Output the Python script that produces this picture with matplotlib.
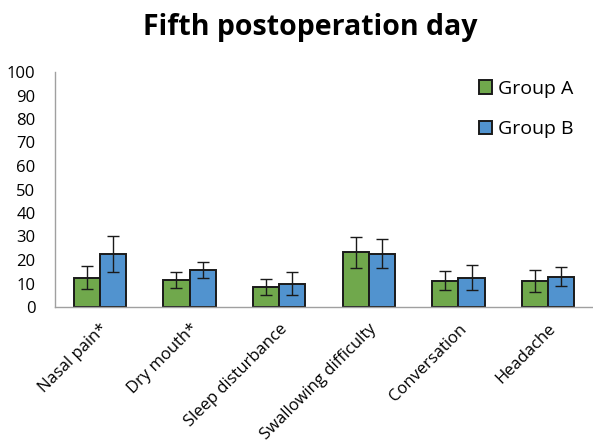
import matplotlib
matplotlib.use("Agg")
import matplotlib.pyplot as plt
import numpy as np

categories = ["Nasal pain*", "Dry mouth*", "Sleep disturbance", "Swallowing difficulty", "Conversation", "Headache"]
group_a = [12.5, 11.5, 8.6, 23.3, 11.2, 11.1]
group_a_err = [5.0, 3.6, 3.5, 6.6, 4.1, 4.7]
group_b = [22.7, 15.7, 9.9, 22.7, 12.5, 12.9]
group_b_err = [7.6, 3.3, 4.9, 6.2, 5.4, 4.1]
yticks = [0, 10, 20, 30, 40, 50, 60, 70, 80, 90, 100]

plt.rcParams['font.family'] = ['Open Sans', 'DejaVu Sans']

fig = plt.figure(figsize=(5.93, 4.42), dpi=100)
ax = fig.add_axes([55/593, (442-307)/442, (593-55)/593, (307-72)/442])

x = np.arange(len(categories))
w = 0.29
ax.bar(x - w/2, group_a, w, yerr=group_a_err, color="#70A84C", edgecolor="#1a1a1a",
       linewidth=1.4, capsize=4, error_kw=dict(elinewidth=1, ecolor="#1a1a1a", capthick=1), label="Group A", zorder=2)
ax.bar(x + w/2, group_b, w, yerr=group_b_err, color="#5193CF", edgecolor="#1a1a1a",
       linewidth=1.4, capsize=4, error_kw=dict(elinewidth=1, ecolor="#1a1a1a", capthick=1), label="Group B", zorder=2)

ax.set_xlim(-0.5, len(categories) - 0.5)
ax.set_ylim(0, 100)
ax.set_yticks(yticks)
ax.set_yticklabels([str(v) for v in yticks], fontsize=12)
ax.set_xticks(x)
ax.set_xticklabels(categories, rotation=45, ha="right", rotation_mode="anchor", fontsize=12)
ax.tick_params(axis="both", length=0)
ax.tick_params(axis="y", pad=14)
ax.tick_params(axis="x", pad=10)
for s in ["top", "right"]:
    ax.spines[s].set_visible(False)
for s in ["left", "bottom"]:
    ax.spines[s].set_color("#a0a0a0")
    ax.spines[s].set_linewidth(1)

leg = ax.legend(loc="upper left", bbox_to_anchor=(0.755, 1.04), frameon=False, fontsize=14,
                handlelength=0.7, handleheight=0.7, handletextpad=0.3, labelspacing=1.15)

fig.text(310/593, 1 - 27/442, "Fifth postoperation day", ha="center", va="center",
         fontsize=20.5, fontweight="bold")

fig.savefig("out.png", dpi=100)
